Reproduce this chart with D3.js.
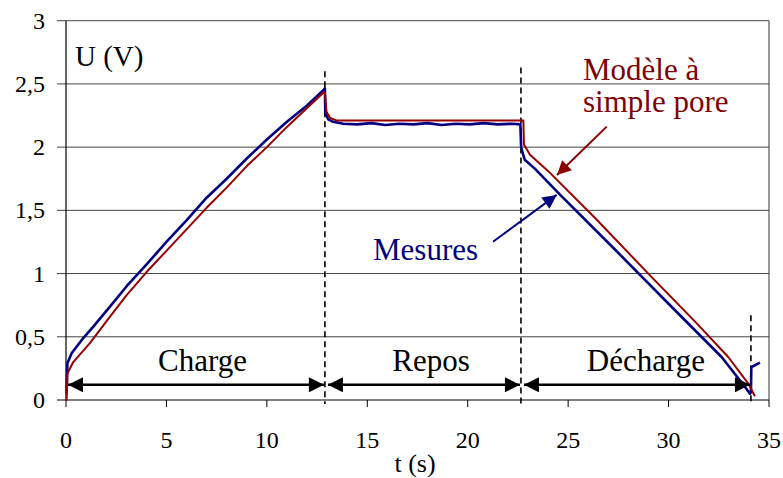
<!DOCTYPE html>
<html>
<head>
<meta charset="utf-8">
<script src="https://cdn.jsdelivr.net/npm/d3@7"></script>
<style>
  html, body { margin: 0; padding: 0; background: #fff; }
  svg { display: block; }
  text { font-family: "Liberation Serif", "Times New Roman", serif; }
</style>
</head>
<body>
<svg id="chart" width="783" height="478"></svg>
<script>
// ---------- data ----------
const xTicks = [0, 5, 10, 15, 20, 25, 30, 35];
const yTicks = [0, 0.5, 1, 1.5, 2, 2.5, 3];
const yTickLabels = ["0", "0,5", "1", "1,5", "2", "2,5", "3"];

// Mesures (measured voltage)
const mesuresT = [0, 0.03, 0.07, 0.28, 0.86, 1.36, 2.2, 3.02, 4, 5, 6, 7, 8, 9, 10, 11, 12, 12.81, 12.89, 12.91, 13.05, 13.3, 13.8,
  14.5, 15.2, 15.9, 16.6, 17.3, 18.0, 18.7, 19.4, 20.1, 20.8, 21.5, 22.2, 22.62,
  22.66, 22.69, 22.84, 23.34, 24.68, 27.33, 30.32, 32.64, 33.8, 34.05, 34.1, 34.12, 34.3, 34.55];
const mesuresU = [0.05, 0.06, 0.29, 0.37, 0.49, 0.58, 0.74, 0.9, 1.07, 1.25, 1.42, 1.6, 1.75, 1.91, 2.06, 2.2, 2.33, 2.45, 2.466, 2.27, 2.22, 2.2, 2.185,
  2.18, 2.19, 2.175, 2.185, 2.18, 2.19, 2.175, 2.185, 2.18, 2.19, 2.18, 2.185, 2.18,
  2.0, 1.98, 1.9, 1.83, 1.61, 1.19, 0.71, 0.34, 0.105, 0.05, 0.06, 0.26, 0.275, 0.295];

// Modèle à simple pore
const modeleT = [0, 0.03, 0.07, 0.36, 1.19, 2.19, 3.02, 4, 5, 6, 7, 8, 9, 10, 11, 12, 12.81, 12.89, 12.97, 13.15, 13.5,
  22.77, 22.8, 23.1, 24.01, 26.34, 28.99, 31.32, 32.97, 33.97, 34.3];
const modeleU = [0, 0.0, 0.21, 0.3, 0.45, 0.66, 0.83, 1.01, 1.18, 1.35, 1.52, 1.68, 1.85, 2.0, 2.16, 2.31, 2.43, 2.43, 2.28, 2.23, 2.21,
  2.21, 2.02, 1.94, 1.81, 1.44, 1.0, 0.62, 0.34, 0.13, 0.03];

// phase boundaries (dashed lines): time, top voltage
const phaseT = [12.89, 22.65, 34.1];
const phaseTop = [2.6, 2.63, 0.67];

// phase double arrows: label, start, end, label centre
const phaseNames = ["Charge", "Repos", "Décharge"];
const phaseStart = [0.1, 13.04, 22.8];
const phaseEnd = [12.84, 22.6, 34.05];
const phaseLabelT = [6.8, 18.17, 28.87];
const arrowU = 0.12;

// ---------- layout ----------
const svg = d3.select("#chart");
const x = d3.scaleLinear().domain([0, 35]).range([66, 769]);
const y = d3.scaleLinear().domain([0, 3]).range([400, 20.7]);
const font = '"Liberation Serif", "Times New Roman", serif';

const defs = svg.append("defs");
function marker(id, color, w, h) {
  defs.append("marker")
    .attr("id", id).attr("viewBox", "0 0 10 10")
    .attr("refX", 10).attr("refY", 5)
    .attr("markerUnits", "userSpaceOnUse")
    .attr("markerWidth", w).attr("markerHeight", h)
    .attr("orient", "auto-start-reverse")
    .append("path").attr("d", "M0,0 L10,5 L0,10 Z").attr("fill", color);
}
marker("ahBlack", "#000", 16, 15);
marker("ahRed", "#8b0000", 16, 14);
marker("ahBlue", "#000080", 16, 14);

// gridlines
svg.append("g").selectAll("line").data(yTicks).join("line")
  .attr("x1", 57).attr("x2", 769)
  .attr("y1", d => y(d)).attr("y2", d => y(d))
  .attr("stroke", d => d === 0 ? "#000" : "#444").attr("stroke-width", 1);

// frame (left and right)
svg.append("line").attr("x1", x(0)).attr("x2", x(0)).attr("y1", y(3)).attr("y2", y(0))
  .attr("stroke", "#000").attr("stroke-width", 1.2);
svg.append("line").attr("x1", x(35)).attr("x2", x(35)).attr("y1", y(3)).attr("y2", y(0))
  .attr("stroke", "#333").attr("stroke-width", 1);

// x ticks
svg.append("g").selectAll("line").data(xTicks).join("line")
  .attr("x1", d => x(d)).attr("x2", d => x(d))
  .attr("y1", y(0)).attr("y2", y(0) + 7)
  .attr("stroke", "#000").attr("stroke-width", 1);

// tick labels
svg.append("g").selectAll("text").data(xTicks).join("text")
  .attr("x", d => x(d)).attr("y", 448)
  .attr("font-family", font)
  .attr("text-anchor", "middle").attr("font-size", 24)
  .text(d => d);
svg.append("g").selectAll("text").data(yTicks).join("text")
  .attr("x", 45).attr("y", d => y(d) + 8)
  .attr("font-family", font)
  .attr("text-anchor", "end").attr("font-size", 24)
  .text((d, i) => yTickLabels[i]);

// axis titles
svg.append("text").attr("x", 75).attr("y", 66).attr("font-family", font).attr("font-size", 29).text("U (V)");
svg.append("text").attr("x", 415).attr("y", 472).attr("font-family", font).attr("text-anchor", "middle").attr("font-size", 26).text("t (s)");

// dashed phase lines
svg.append("g").selectAll("line").data(phaseT).join("line")
  .attr("x1", d => x(d)).attr("x2", d => x(d))
  .attr("y1", (d, i) => y(phaseTop[i])).attr("y2", y(0) + 4)
  .attr("stroke", "#000").attr("stroke-width", 1.6)
  .attr("stroke-dasharray", "6,4");

// data lines
const line = d3.line().x(d => x(d[0])).y(d => y(d[1]));
svg.append("path")
  .datum(mesuresT.map((t, i) => [t, mesuresU[i]]))
  .attr("d", line).attr("fill", "none")
  .attr("stroke", "#000080").attr("stroke-width", 2.6).attr("stroke-linejoin", "round");
svg.append("path")
  .datum(modeleT.map((t, i) => [t, modeleU[i]]))
  .attr("d", line).attr("fill", "none")
  .attr("stroke", "#990000").attr("stroke-width", 2).attr("stroke-linejoin", "round");

// phase double arrows + labels
const ph = svg.append("g");
phaseNames.forEach((name, i) => {
  ph.append("line")
    .attr("x1", x(phaseStart[i])).attr("x2", x(phaseEnd[i]))
    .attr("y1", y(arrowU)).attr("y2", y(arrowU))
    .attr("stroke", "#000").attr("stroke-width", 2.5)
    .attr("marker-start", "url(#ahBlack)").attr("marker-end", "url(#ahBlack)");
  ph.append("text")
    .attr("x", x(phaseLabelT[i])).attr("y", 371)
    .attr("font-family", font)
    .attr("text-anchor", "middle").attr("font-size", 31)
    .text(name);
});

// series annotations
svg.append("line")
  .attr("x1", x(26.92)).attr("y1", y(2.162)).attr("x2", x(24.445)).attr("y2", y(1.78))
  .attr("stroke", "#8b0000").attr("stroke-width", 2).attr("marker-end", "url(#ahRed)");
svg.append("line")
  .attr("x1", x(21.26)).attr("y1", y(1.252)).attr("x2", x(24.43)).attr("y2", y(1.622))
  .attr("stroke", "#000080").attr("stroke-width", 2).attr("marker-end", "url(#ahBlue)");

const red = svg.append("text").attr("font-family", font).attr("font-size", 31).attr("fill", "#800000");
red.append("tspan").attr("x", 583).attr("y", 80).text("Modèle à");
red.append("tspan").attr("x", 583).attr("y", 112).text("simple pore");
svg.append("text").attr("x", 373).attr("y", 260).attr("font-family", font).attr("font-size", 31).attr("fill", "#000080").text("Mesures");
</script>
</body>
</html>
